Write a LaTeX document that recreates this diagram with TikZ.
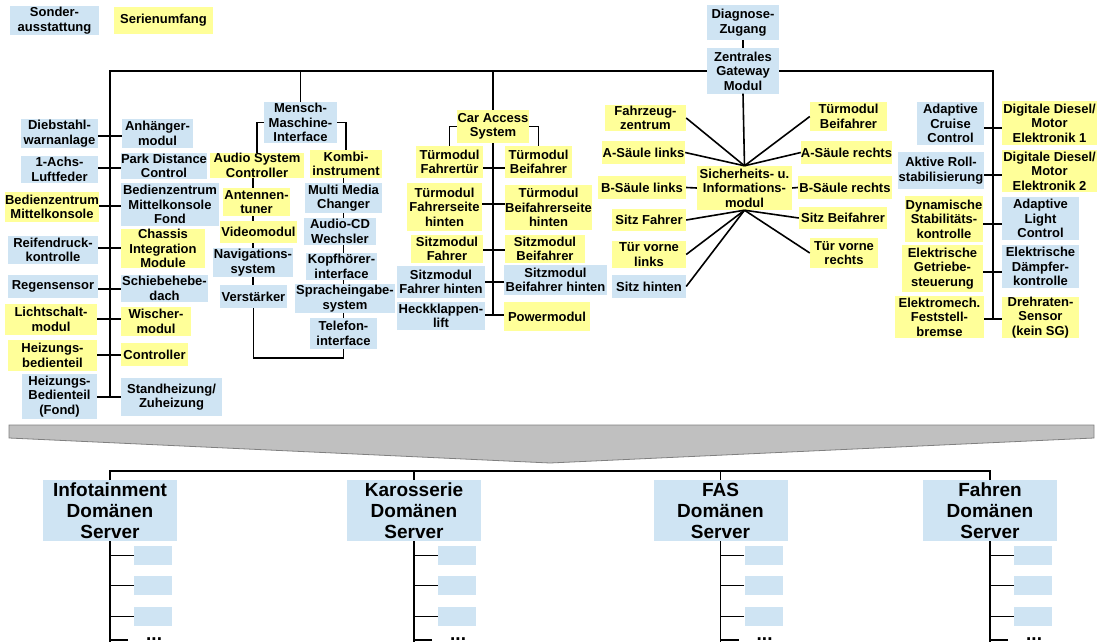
\documentclass[tikz,border=0pt]{standalone}
\usepackage{fontspec}
\setmainfont{Liberation Sans}
\usetikzlibrary{positioning}

\definecolor{sgblau}{RGB}{207,228,243}
\definecolor{sggelb}{RGB}{255,255,153}
\definecolor{trichter}{RGB}{192,192,192}
\definecolor{trichterrand}{RGB}{128,128,128}

\tikzset{
	sg/.style={inner sep=0pt, align=center, font=\bfseries\fontsize{13}{14.5}\selectfont},
	sonder/.style={sg, fill=sgblau},
	serie/.style={sg, fill=sggelb},
	server/.style={sonder, font=\bfseries\fontsize{19}{21}\selectfont},
	groesse/.style 2 args={minimum width=#1pt, minimum height=#2pt},
	bus/.style={line width=1.6pt},
}

\begin{document}
\begin{tikzpicture}[x=1pt,y=-1pt]
			%\draw[help lines,step=50] (0,0) grid (1098,642);
			\clip (0,0) rectangle (1098,642);

			\node[sonder,groesse={89}{29}] (legsonder) at (54.5,20.5) {Sonder-\\ausstattung};
			\node[serie,groesse={99}{27}] (legserie) at (163.5,20.5) {Serienumfang};

			\node[sonder,groesse={72}{35}] (diag) at (743,22.5) {Diagnose-\\Zugang};
			\node[sonder,groesse={72}{45}] (gateway) at (743,71) {Zentrales\\Gateway\\Modul};
			\draw[bus] (diag) -- (gateway);

			\coordinate (busL) at (110,71);
			\coordinate (busLend) at (110,397);
			\coordinate (busR) at (993,71);
			\coordinate (busRend) at (993,319);
			\draw[bus] (gateway.west) -- (busL) -- (busLend);
			\draw[bus] (gateway.east) -- (busR) -- (busRend);

			% linker Strang
			\node[sonder,groesse={77}{29}] (diebstahl) at (59.5,133.5) {Diebstahl-\\warnanlage};
			\node[sonder,groesse={77}{27}] (achs) at (59.5,169.5) {1-Achs-\\Luftfeder};
			\node[serie,groesse={94}{30}] (bedien) at (52,207) {Bedienzentrum\\Mittelkonsole};
			\node[sonder,groesse={90}{28}] (reifen) at (53,250) {Reifendruck-\\kontrolle};
			\node[sonder,groesse={90}{23}] (regen) at (53,286.5) {Regensensor};
			\node[serie,groesse={92}{31}] (licht) at (51,319.5) {Lichtschalt-\\modul};
			\node[serie,groesse={89}{31}] (heizb) at (52.5,355.5) {Heizungs-\\bedienteil};
			\node[sonder,groesse={75}{45}] (heizf) at (59.5,396.5) {Heizungs-\\Bedienteil\\(Fond)};

			\node[sonder,groesse={71}{29}] (anh) at (157.5,133.5) {Anhänger-\\modul};
			\node[sonder,groesse={86}{26}] (pdc) at (164,166) {Park Distance\\Control};
			\node[sonder,groesse={98}{43}] (bedf) at (170,204.5) {Bedienzentrum\\Mittelkonsole\\Fond};
			\node[serie,groesse={84}{39}] (cim) at (163,248.5) {Chassis\\Integration\\Module};
			\node[sonder,groesse={87}{27}] (schiebe) at (164.5,288.5) {Schiebehebe-\\dach};
			\node[serie,groesse={70}{29}] (wischer) at (156,321.5) {Wischer-\\modul};
			\node[serie,groesse={67}{23}] (contr) at (154.5,354.5) {Controller};
			\node[sonder,groesse={101}{38}] (stand) at (171.5,397) {Standheizung/\\Zuheizung};

			\foreach \a/\b/\y in {diebstahl/anh/136, achs/pdc/168, bedien/bedf/206, reifen/cim/248,
				regen/schiebe/289, licht/wischer/319, heizb/contr/355, heizf/stand/397}
				{\coordinate (t) at (110,\y); \draw[bus] (\a.east |- t) -- (\b.west |- t);}

			% Mensch-Maschine-Interface
			\node[sonder,groesse={73}{41}] (mmi) at (300.5,122.5) {Mensch-\\Maschine-\\Interface};
			\node[serie,groesse={94}{25}] (asc) at (257,165.5) {Audio System\\Controller};
			\node[serie,groesse={67}{28}] (ant) at (256.5,202) {Antennen-\\tuner};
			\node[serie,groesse={77}{22}] (video) at (258.5,232) {Videomodul};
			\node[sonder,groesse={80}{29}] (navi) at (253,262.5) {Navigations-\\system};
			\node[sonder,groesse={67}{23}] (verst) at (253.5,296.5) {Verstärker};

			\node[serie,groesse={72}{28}] (kombi) at (346,164) {Kombi-\\instrument};
			\node[sonder,groesse={77}{30}] (mmc) at (343.5,198) {Multi Media\\Changer};
			\node[sonder,groesse={72}{27}] (cdw) at (340,231.5) {Audio-CD\\Wechsler};
			\node[sonder,groesse={71}{27}] (kopf) at (341.5,266.5) {Kopfhörer-\\interface};
			\node[sonder,groesse={100}{29}] (sprach) at (345,298.5) {Spracheingabe-\\system};
			\node[sonder,groesse={67}{31}] (telefon) at (343.5,333.5) {Telefon-\\interface};

			\draw[bus] (mmi.north) -- (mmi.north |- busL);
			\draw[bus] (mmi.west) -| (asc.north);
			\draw[bus] (mmi.east) -| (kombi.north);
			\foreach \a/\b in {asc/ant, ant/video, video/navi, navi/verst}
				\draw[bus] (\a.south -| navi) -- (\b.north -| navi);
			\foreach \a/\b in {kombi/mmc, mmc/cdw, cdw/kopf, kopf/sprach, sprach/telefon}
				\draw[bus] (\a.south -| telefon) -- (\b.north -| telefon);
			\coordinate (mmiU) at (253.5,358);
			\draw[bus] (verst.south) -- (mmiU) -- (mmiU -| telefon) -- (telefon.south);

			% Car Access System
			\node[serie,groesse={72}{33}] (cas) at (493,126.5) {Car Access\\System};
			\node[serie,groesse={67}{32}] (tfa) at (449.5,162) {Türmodul\\Fahrertür};
			\node[serie,groesse={67}{32}] (tbf) at (538.5,162) {Türmodul\\Beifahrer};
			\node[serie,groesse={75}{48}] (tfh) at (444.5,207) {Türmodul\\Fahrerseite\\hinten};
			\node[serie,groesse={87}{45}] (tbh) at (548.5,207.5) {Türmodul\\Beifahrerseite\\hinten};
			\node[serie,groesse={72}{28}] (smf) at (447,249) {Sitzmodul\\Fahrer};
			\node[serie,groesse={80}{28}] (smb) at (545,249) {Sitzmodul\\Beifahrer};
			\node[sonder,groesse={88}{32}] (smfh) at (441,282) {Sitzmodul\\Fahrer hinten};
			\node[sonder,groesse={103}{30}] (smbh) at (555.5,280) {Sitzmodul\\Beifahrer hinten};
			\node[sonder,groesse={88}{28}] (heck) at (441,316) {Heckklappen-\\lift};
			\node[serie,groesse={86}{29}] (power) at (547,316.5) {Powermodul};

			\coordinate (casU) at (493,315);
			\draw[bus] (cas.north) -- (cas.north |- busL);
			\draw[bus] (cas.west) -| (tfa.north);
			\draw[bus] (cas.east) -| (tbf.north);
			\draw[bus] (cas.south) -- (casU);
			\foreach \a/\b/\y in {tfa/tbf/168, tfh/tbh/204, smf/smb/250, smfh/smbh/282, heck/power/315}
				{\coordinate (t) at (493,\y); \draw[bus] (\a.east |- t) -- (\b.west |- t);}

			% Sicherheits- u. Informationsmodul
			\node[serie,groesse={95}{44}] (sim) at (744.5,188) {Sicherheits- u.\\Informations-\\modul};
			\node[serie,groesse={81}{26}] (fzz) at (645.5,118) {Fahrzeug-\\zentrum};
			\node[serie,groesse={83}{23}] (asl) at (643.5,152.5) {A-Säule links};
			\node[serie,groesse={88}{23}] (bsl) at (642,187.5) {B-Säule links};
			\node[serie,groesse={74}{22}] (sfa) at (649,220) {Sitz Fahrer};
			\node[serie,groesse={74}{27}] (tvl) at (649,254.5) {Tür vorne\\links};
			\node[sonder,groesse={74}{23}] (sh) at (649,286.5) {Sitz hinten};
			\node[serie,groesse={77}{29}] (tbf2) at (848.5,116.5) {Türmodul\\Beifahrer};
			\node[serie,groesse={91}{23}] (asr) at (846.5,152.5) {A-Säule rechts};
			\node[serie,groesse={94}{23}] (bsr) at (845,187.5) {B-Säule rechts};
			\node[serie,groesse={88}{22}] (sbf) at (843,218) {Sitz Beifahrer};
			\node[serie,groesse={68}{30}] (tvr) at (844,253) {Tür vorne\\rechts};

			\draw[bus] (gateway.south) -- (sim.north);
			\foreach \n in {fzz, asl} \draw[bus] (\n.east) -- (sim.north);
			\foreach \n in {tbf2, asr} \draw[bus] (\n.west) -- (sim.north);
			\draw[bus] (bsl.east) -- (sim.west);
			\draw[bus] (bsr.west) -- (sim.east);
			\foreach \n in {sfa, tvl, sh} \draw[bus] (\n.east) -- (sim.south);
			\foreach \n in {sbf, tvr} \draw[bus] (\n.west) -- (sim.south);

			% rechter Strang
			\node[sonder,groesse={67}{43}] (acc) at (950.5,123.5) {Adaptive\\Cruise\\Control};
			\node[sonder,groesse={86}{37}] (roll) at (941,170.5) {Aktive Roll-\\stabilisierung};
			\node[serie,groesse={78}{46}] (dsc) at (944,219) {Dynamische\\Stabilitäts-\\kontrolle};
			\node[serie,groesse={81}{47}] (egs) at (942.5,268.5) {Elektrische\\Getriebe-\\steuerung};
			\node[serie,groesse={89}{42}] (epb) at (939.5,317) {Elektromech.\\Feststell-\\bremse};
			\node[serie,groesse={95}{44}] (dde1) at (1049.5,123) {Digitale Diesel/\\Motor\\Elektronik 1};
			\node[serie,groesse={95}{42}] (dde2) at (1049.5,171) {Digitale Diesel/\\Motor\\Elektronik 2};
			\node[sonder,groesse={77}{43}] (alc) at (1040.5,218.5) {Adaptive\\Light\\Control};
			\node[sonder,groesse={77}{43}] (edc) at (1040.5,266.5) {Elektrische\\Dämpfer-\\kontrolle};
			\node[serie,groesse={77}{41}] (drs) at (1040.5,317.5) {Drehraten-\\Sensor\\(kein SG)};

			\foreach \a/\b/\y in {acc/dde1/128, roll/dde2/175, dsc/alc/224, egs/edc/272, epb/drs/319}
				{\coordinate (t) at (993,\y); \draw[bus] (\a.east |- t) -- (\b.west |- t);}

			% Trichter
			\filldraw[fill=trichter, draw=trichterrand, line width=0.8pt]
				(9,425) -- (1094,425) -- (1094,438) -- (550,463) -- (9,438) -- cycle;

			% Domaenen Server
			\coordinate (unten) at (0,471);
			\foreach \n/\x/\t in {info/110/Infotainment, karo/414/Karosserie, fas/720.5/FAS, fahren/990/Fahren}{
				\node[server,groesse={134}{61}] (\n) at (\x,510.5) {\t\\Domänen\\Server};
				\coordinate (\n-end) at (\x,644);
				\draw[bus] (\n.south) -- (\n-end);
				\foreach \i/\y in {1/555.5, 2/585.5, 3/616.5}{
					\node[sonder,groesse={38}{19}] (\n-\i) at (\x+43,\y) {};
					\draw[bus] (\n-\i.west) -- (\n-\i.west -| \n.south);
				}
				\node[anchor=base west, inner sep=0pt, text depth=0pt, font=\bfseries\fontsize{19}{21}\selectfont] (\n-dots) at (\x+36,640) {...};
				\coordinate (\n-t4) at (\x+18,640);
				\draw[bus] (\n-t4) -- (\n-t4 -| \n.south);
			}
			\draw[bus] (info.north) -- (info.north |- unten) -- (fahren.north |- unten) -- (fahren.north);
			\draw[bus] (karo.north) -- (karo.north |- unten);
			\draw[bus] (fas.north) -- (fas.north |- unten);
\end{tikzpicture}
\end{document}
